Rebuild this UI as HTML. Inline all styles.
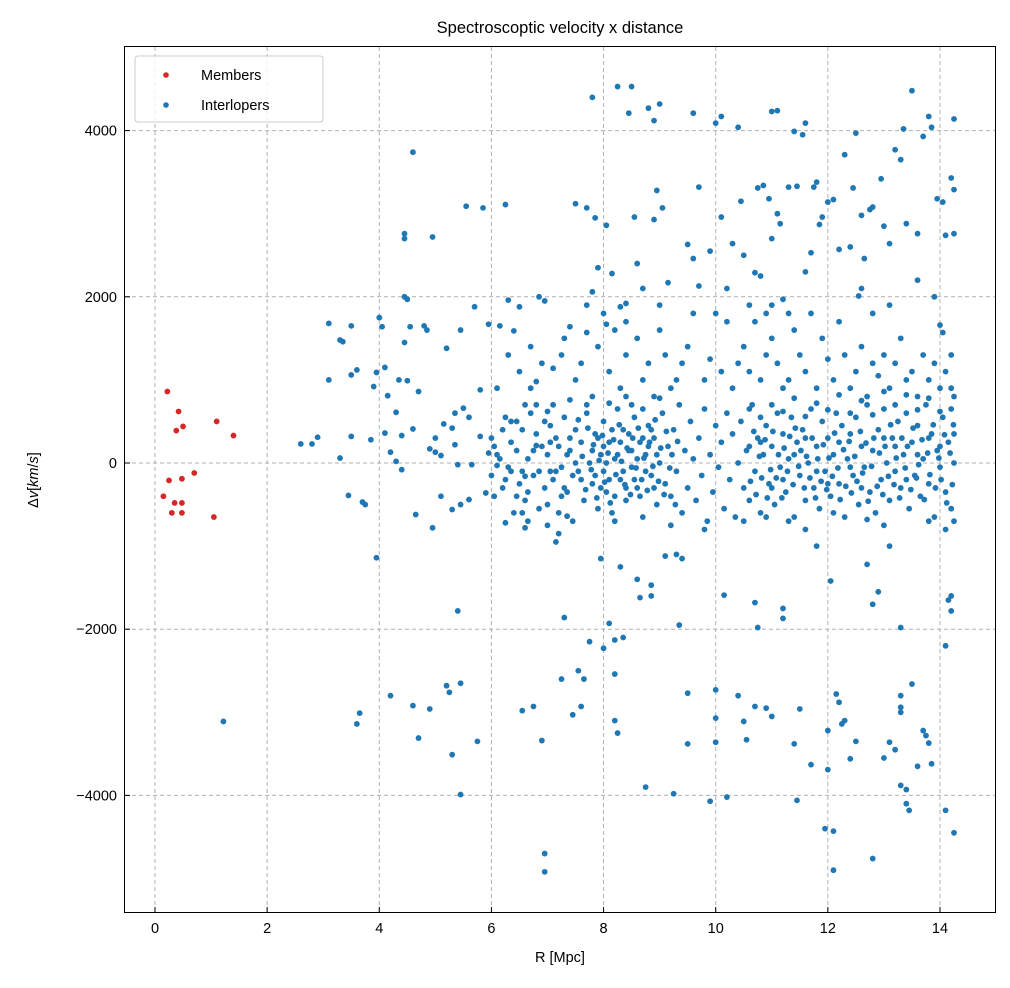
<!DOCTYPE html>
<html><head><meta charset="utf-8"><style>
body{margin:0;background:#fff;}
svg text{font-family:"Liberation Sans",sans-serif;fill:#000;}
</style></head><body>
<svg id="chart" width="1010" height="983" xmlns="http://www.w3.org/2000/svg">
<rect width="1010" height="983" fill="#fff"/>
<text x="560" y="33" font-size="16.5" text-anchor="middle">Spectroscoptic velocity x distance</text>
<g id="grid"></g><g id="pts"></g>
<rect x="124.5" y="46.5" width="871" height="866" fill="none" stroke="#000" stroke-width="1"/>
<g id="axes"></g>
<text x="560" y="962" font-size="14.5" text-anchor="middle">R [Mpc]</text>
<text transform="translate(38,480) rotate(-90)" font-size="14.5" text-anchor="middle">Δ<tspan font-style="italic">v</tspan>[<tspan font-style="italic">km</tspan>/<tspan font-style="italic">s</tspan>]</text>
<g>
<rect x="135" y="56" width="188" height="66" rx="3" fill="#fff" fill-opacity="0.8" stroke="#ccc"/>
<circle cx="166" cy="75" r="2.8" fill="#d62728"/>
<text x="201" y="80" font-size="14.5">Members</text>
<circle cx="166" cy="105" r="2.8" fill="#1f77b4"/>
<text x="201" y="110" font-size="14.5">Interlopers</text>
</g>
</svg>
<script>
const xTicks=[0,2,4,6,8,10,12,14];
const yTicks=[-4000,-2000,0,2000,4000];
const memberPts=[[0.22,860],[0.42,620],[0.5,440],[0.38,390],[1.1,500],[1.4,330],[0.7,-120],[0.25,-210],[0.48,-190],[0.15,-400],[0.35,-480],[0.48,-480],[0.3,-600],[0.48,-600],[1.05,-650]];
const interPts=[
[1.22,-3110],[2.6,230],[2.8,230],[2.9,310],[3.1,1000],[3.1,1680],[3.3,1480],[3.35,1460],[3.5,1650],[3.5,1060],[3.6,1120],[3.3,60],[3.45,-390],[3.7,-470],[3.75,-500],[3.6,-3140],[3.65,-3010],[3.85,280],[3.9,920],[3.95,-1140],[3.95,1090],[4.0,1750],[4.05,1640],[4.1,1150],[4.15,810],[4.1,360],[4.2,-2800],[4.3,610],[4.35,1000],[4.3,20],[4.4,-80],[4.45,1450],[4.45,2000],[4.45,2700],[4.45,2760],[4.5,990],[4.5,1970],[4.55,1640],[4.6,3740],[4.6,-2920],[4.65,-620],[4.7,-3310],[4.6,410],[4.7,860],[4.8,1650],[4.85,1600],[4.9,-2960],[4.95,-780],[4.95,2720],[4.9,170],[5.0,130],[5.1,90],[5.2,-2680],[5.2,1380],[5.25,-2760],[5.3,-3510],[5.3,420],[5.3,-560],[5.35,600],[5.4,-1780],[5.4,-20],[5.45,-3990],[5.45,-2650],[5.45,-500],[5.45,1600],[5.5,660],[5.55,3090],[5.6,-440],[5.65,-20],[5.7,1880],[5.75,-3350],[5.8,880],[5.85,3070],[5.9,-360],[5.95,120],[5.95,1670],[5.35,220],[5.15,470],[5.0,300],[5.1,-400],[4.4,330],[4.2,130],[3.5,320],[5.6,550],[5.8,320],
[6.0,-150],[6.05,200],[6.1,-30],[6.15,1650],[6.2,400],[6.25,3110],[6.25,-720],[6.3,1960],[6.35,-100],[6.4,1590],[6.45,500],[6.5,1880],[6.55,-600],[6.55,-2980],[6.6,-160],[6.6,700],[6.65,-700],[6.7,1400],[6.75,-2930],[6.8,210],[6.8,980],[6.85,2000],[6.9,-3340],[6.95,1950],[6.95,-4700],[6.95,-4920],[7.0,620],[7.0,-500],[7.05,-100],[7.1,1140],[7.15,-950],[7.2,-850],[7.25,-2600],[7.25,1300],[7.3,-1860],[7.35,-640],[7.4,1640],[7.45,-3030],[7.5,3120],[7.55,-2500],[7.6,-2930],[7.65,-2600],[7.7,3070],[7.7,1570],[7.75,-2150],[7.8,2060],[7.8,4400],[7.85,2950],[7.9,2350],[7.95,-1150],[8.0,-2230],[8.05,1670],[8.1,-1930],[8.15,2280],[8.2,-2540],[8.2,-3100],[8.2,-2130],[8.25,4530],[8.25,-3250],[8.3,-1250],[8.35,-2100],[8.4,1920],[8.45,4210],[8.5,4530],[8.55,2960],[8.6,-1400],[8.65,-1620],[8.7,2100],[8.75,-3900],[8.8,4270],[8.85,-1600],[8.85,-1470],[8.9,4120],[8.9,2930],[8.95,3280],[9.0,4320],[9.05,3070],[9.1,-1120],[9.15,2170],[9.25,-3980],[9.3,-1100],[9.35,-1950],[9.4,-1150],[9.5,-2770],[9.6,4210],[9.7,3320],[9.9,-4070],[10.0,4090],[10.0,-2730],[10.0,-3360],[10.0,-3070],[10.1,2960],[10.15,-1590],[10.2,-4020],[10.3,2640],[10.45,3150],[10.5,-3110],[10.55,-3330],[10.7,-1680],[10.75,-1980],[10.7,-2930],[10.9,-2950],[11.0,4230],[11.1,4240],[11.2,-1750],[11.2,-1870],[11.4,-3380],[11.45,-4060],[11.5,-2960],[11.6,4090],[11.7,-3630],[11.8,-1000],[11.95,-4400],[12.0,-3220],[12.0,-3690],[12.05,-1420],[12.1,-4900],[12.1,-4430],[12.15,-2780],[12.2,-2880],[12.25,-3140],[12.3,-3100],[12.4,-3560],[12.5,-3350],[12.7,-1220],[12.8,-4760],[12.8,-1700],[12.9,-1550],[13.0,-3550],[13.1,-3360],[13.2,-3450],[13.3,-2800],[13.3,-2940],[13.3,-3000],[13.3,-3880],[13.4,-4100],[13.45,-4180],[13.4,-3930],[13.5,-2660],[13.6,-3650],[13.7,-3220],[13.75,-3280],[13.8,-3370],[13.85,-3620],[14.1,-4180],[14.1,-2200],[14.2,-1600],[14.25,-4450],[14.2,-1780],[14.15,-1650],[13.3,-1980],[13.1,-1000],[9.5,-3380],[11.0,-3050],[10.4,-2800],
[9.7,2130],[9.5,2630],[9.6,2460],[9.9,2550],[10.1,4170],[10.4,4040],[10.6,1900],[10.7,2290],[10.8,2250],[10.75,3310],[10.85,3340],[10.95,3180],[11.0,2700],[11.1,3000],[11.15,2880],[11.2,1970],[11.3,3320],[11.4,3990],[11.45,3330],[11.55,3950],[11.7,2530],[11.75,3320],[11.8,3380],[11.85,2870],[11.9,2960],[12.0,3140],[12.1,3170],[12.2,2570],[12.3,3710],[12.4,2600],[12.45,3310],[12.5,3970],[12.6,2980],[12.55,2010],[12.65,2460],[12.75,3050],[12.8,3080],[12.95,3420],[13.0,2850],[13.1,2640],[13.2,3770],[13.3,3650],[13.35,4020],[13.4,2880],[13.5,4480],[13.6,2760],[13.7,3930],[13.8,4170],[13.85,4040],[13.95,3180],[14.05,3140],[14.1,2740],[14.2,3430],[14.25,3290],[14.25,4140],[14.25,2760],[14.0,1660],[14.05,1570],[10.5,2500],[10.9,1800],[11.3,1800],[8.05,2860],[8.3,1880],[8.0,1800],[9.5,1400],[13.6,2200],[13.9,2000],[12.6,2100],[11.6,2300],[10.2,2100],[9.0,1900],[8.6,2400],
[6.1,900],[6.3,1300],[6.5,1100],[6.7,900],[6.9,1200],[7.1,700],[7.3,1500],[7.5,1000],[7.6,1200],[7.8,800],[7.9,1400],[8.1,1100],[8.2,1600],[8.3,900],[8.4,1300],[8.5,700],[8.6,1500],[8.7,1000],[8.8,1200],[8.9,800],[9.0,1600],[9.1,1300],[9.2,900],[9.3,1000],[9.4,1200],[9.6,1800],[9.8,1000],[9.9,1250],[10.1,1100],[10.2,1700],[10.3,900],[10.4,1200],[10.5,1400],[10.6,1100],[10.7,1700],[10.8,1000],[10.9,1300],[11.0,1500],[11.1,1200],[11.2,900],[11.3,1000],[11.4,1600],[11.5,1300],[11.6,1100],[11.7,1800],[11.8,900],[11.9,1500],[12.0,1250],[12.1,1000],[12.2,1700],[12.3,1300],[12.4,900],[12.5,1100],[12.6,1400],[12.7,800],[12.8,1200],[12.9,1050],[13.0,1300],[13.1,900],[13.2,1200],[13.3,1500],[13.4,1000],[13.5,1100],[13.6,800],[13.7,1300],[13.8,1000],[13.9,1200],[14.0,900],[14.1,1100],[14.2,1300],[14.25,800],[12.8,1800],[11.0,1900],[10.0,1800],[8.4,1700],[7.7,1900],[13.1,1900],
[6.0,300],[6.05,-400],[6.1,100],[6.2,-300],[6.25,550],[6.3,-50],[6.35,250],[6.4,-600],[6.45,150],[6.5,-250],[6.55,400],[6.6,-450],[6.65,50],[6.7,600],[6.75,-150],[6.8,350],[6.85,-550],[6.9,200],[6.95,-300],[7.0,100],[7.05,450],[7.1,-200],[7.15,300],[7.2,-600],[7.25,-50],[7.3,550],[7.35,-350],[7.4,150],[7.45,-700],[7.5,400],[7.55,-100],[7.6,250],[7.65,-450],[7.7,700],[7.75,0],[7.8,-250],[7.85,350],[7.9,-550],[7.95,100],[8.0,500],[8.0,-100],[8.05,-350],[8.1,250],[8.15,-600],[8.2,50],[8.25,650],[8.3,-200],[8.35,400],[8.4,-450],[8.45,150],[8.5,-50],[8.55,550],[8.6,-300],[8.65,250],[8.7,-650],[8.75,100],[8.8,450],[8.85,-150],[8.9,300],[8.95,-500],[9.0,0],[9.05,600],[9.1,-250],[9.15,200],[9.2,-400],[9.25,400],[9.3,-100],[9.35,700],[9.4,-600],[9.45,150],[9.5,-300],[9.55,500],[9.6,50],[9.65,-450],[9.7,300],[9.75,-150],[9.8,650],[9.85,-700],[9.9,100],[9.95,-350],[10.0,450],[10.05,-50],[10.1,250],[10.15,-550],[10.2,600],[10.25,-200],[10.3,350],[10.35,-650],[10.4,0],[10.45,500],[10.5,-300],[10.55,150],[10.6,-450],[10.65,700],[10.7,-100],[10.75,300],[10.8,-600],[10.85,100],[10.9,450],[10.95,-250],[11.0,200],[11.05,-500],[11.1,600],[11.15,-50],[11.2,350],[11.25,-350],[11.3,50],[11.35,550],[11.4,-650],[11.45,250],[11.5,-150],[11.55,400],[11.6,-450],[11.65,0],[11.7,650],[11.75,-300],[11.8,200],[11.85,-550],[11.9,500],[11.95,-100],[12.0,300],[12.05,-400],[12.1,100],[12.15,600],[12.2,-250],[12.25,450],[12.3,-650],[12.35,50],[12.4,350],[12.45,-150],[12.5,550],[12.55,-500],[12.6,200],[12.65,-50],[12.7,700],[12.75,-350],[12.8,150],[12.85,-600],[12.9,400],[12.95,-200],[13.0,650],[13.05,0],[13.1,-450],[13.15,300],[13.2,-100],[13.25,500],[13.3,-300],[13.35,100],[13.4,600],[13.45,-550],[13.5,250],[13.55,-150],[13.6,450],[13.65,-400],[13.7,50],[13.75,700],[13.8,-250],[13.85,350],[13.9,-650],[13.95,150],[14.0,-50],[14.05,550],[14.1,-350],[14.15,250],[14.2,-550],[14.2,650],[14.25,0],[14.25,-700],[14.25,350],
[7.8,150],[7.85,-150],[7.9,300],[7.95,-300],[8.0,200],[8.05,0],[8.1,-200],[8.15,400],[8.2,-400],[8.25,100],[8.3,250],[8.35,-100],[8.4,-300],[8.45,350],[8.5,150],[8.55,-200],[8.6,50],[8.65,-400],[8.7,300],[8.75,-100],[8.8,200],[8.85,400],[8.9,-300],[8.95,100],[7.6,-200],[7.5,0],[7.4,300],[7.3,-300],[7.2,200],[10.6,200],[10.8,250],[11.0,-300],[11.2,-200],[11.4,100],[11.6,300],[11.8,-100],[12.0,-250],[12.2,250],[12.4,-50],[12.6,-300],[13.0,300],[13.2,200],[13.4,-200],[13.6,100],[13.8,300],[14.0,200],[12.1,-600],[11.3,-700],[10.5,-700],[9.2,-750],[8.2,-700],[7.0,-750],[13.0,-750],[13.8,-700],[14.1,-800],[12.7,-680],[6.6,-780],[9.8,-800],[10.9,-650],[11.6,-800],
[7.62,80],[7.68,-320],[7.72,420],[7.78,-80],[7.82,220],[7.88,-420],[7.92,30],[7.98,330],[8.02,-230],[8.08,120],[8.12,-480],[8.18,280],[8.22,-140],[8.28,460],[8.32,20],[8.38,-260],[8.42,180],[8.48,-380],[8.52,300],[8.58,-60],[8.62,420],[8.68,-200],[8.72,60],[8.78,-330],[8.82,250],[8.88,-40],[8.92,520],[8.98,-220],[9.02,180],[9.08,-380],[9.12,380],[9.18,-60],[9.22,100],[9.28,-500],[9.32,260],[7.55,520],[7.45,-150],[7.35,100],[7.25,-400],[7.15,-100],[7.05,250],[6.95,500],[6.85,-100],[6.75,150],[6.65,-350],[6.55,-100],[6.45,-400],[6.35,500],[6.25,-200],[6.15,50],
[10.62,-220],[10.68,380],[10.72,-380],[10.78,80],[10.82,-180],[10.88,280],[10.92,-420],[10.98,-80],[11.02,380],[11.08,-180],[11.12,100],[11.18,-420],[11.22,180],[11.28,-100],[11.32,320],[11.38,-260],[11.42,420],[11.48,-40],[11.52,150],[11.58,-300],[11.62,80],[11.68,-180],[11.72,300],[11.78,-420],[11.82,50],[11.88,-220],[11.92,220],[11.98,-320],[12.02,60],[12.08,-160],[12.12,360],[12.18,-60],[12.22,-440],[12.28,160],[12.32,-280],[12.38,260],[12.42,-360],[12.48,80],[12.52,-220],[12.58,380],[12.62,-120],[12.68,240],[12.72,-460],[12.78,-40],[12.82,300],[12.88,-280],[12.92,120],[12.98,-380],[13.02,200],[13.08,-160],[13.12,460],[13.18,-260],[13.22,60],[13.28,-420],[13.32,300],[13.38,-60],[13.42,200],[13.48,-320],[13.52,420],[13.58,-180],[13.62,-20],[13.68,280],[13.72,-440],[13.78,120],[13.82,-140],[13.88,460],[13.92,-300],[13.98,60],[14.02,-200],[14.08,340],[14.12,-480],[14.18,120],[14.22,-260],[14.24,460],
[10.6,650],[10.8,550],[11.0,700],[11.2,620],[11.4,780],[11.6,560],[11.8,720],[12.0,640],[12.2,820],[12.4,600],[12.6,750],[12.8,580],[13.0,860],[13.2,700],[13.4,820],[13.6,640],[13.8,780],[14.0,620],[14.2,900],[8.1,720],[8.4,800],[8.7,650],[9.0,780],[7.7,600],[7.4,760],[6.8,700]
];
const x0=155,xs=56.07,y0=463,ys=0.0831;
const X=v=>x0+v*xs, Y=v=>y0-v*ys;
const NS="http://www.w3.org/2000/svg";
const grid=document.getElementById('grid'),axes=document.getElementById('axes'),pts=document.getElementById('pts');
function mk(tag,attrs,parent){const e=document.createElementNS(NS,tag);for(const k in attrs)e.setAttribute(k,attrs[k]);parent.appendChild(e);return e;}
xTicks.forEach(t=>{
 const x=X(t);
 const g=mk('line',{x1:x,x2:x,y1:47,y2:912,stroke:'#b0b0b0','stroke-dasharray':'4,3','stroke-width':1},grid);
 
 
 const tk=mk('line',{x1:x,x2:x,y1:912,y2:907,stroke:'#000'},axes);
 
 
 const tx=mk('text',{x:x,y:933,'font-size':14.5,'text-anchor':'middle'},axes);tx.textContent=t;
 
 
});
yTicks.forEach(t=>{
 const y=Y(t);
 const g=mk('line',{x1:125,x2:995,y1:y,y2:y,stroke:'#b0b0b0','stroke-dasharray':'4,3','stroke-width':1},grid);
 
 
 const tk=mk('line',{x1:125,x2:130,y1:y,y2:y,stroke:'#000'},axes);
 
 
 const tx=mk('text',{x:117,y:y+5,'font-size':14.5,'text-anchor':'end'},axes);tx.textContent=(t<0?'\u2212'+(-t):t);
 
 
});
interPts.forEach(p=>{
 const c=mk('circle',{cx:X(p[0]),cy:Y(p[1]),r:2.9,fill:'#1f77b4'},pts);
 
 
});
memberPts.forEach(p=>{
 const c=mk('circle',{cx:X(p[0]),cy:Y(p[1]),r:2.9,fill:'#d62728'},pts);
 
 
});
</script>
</body></html>
